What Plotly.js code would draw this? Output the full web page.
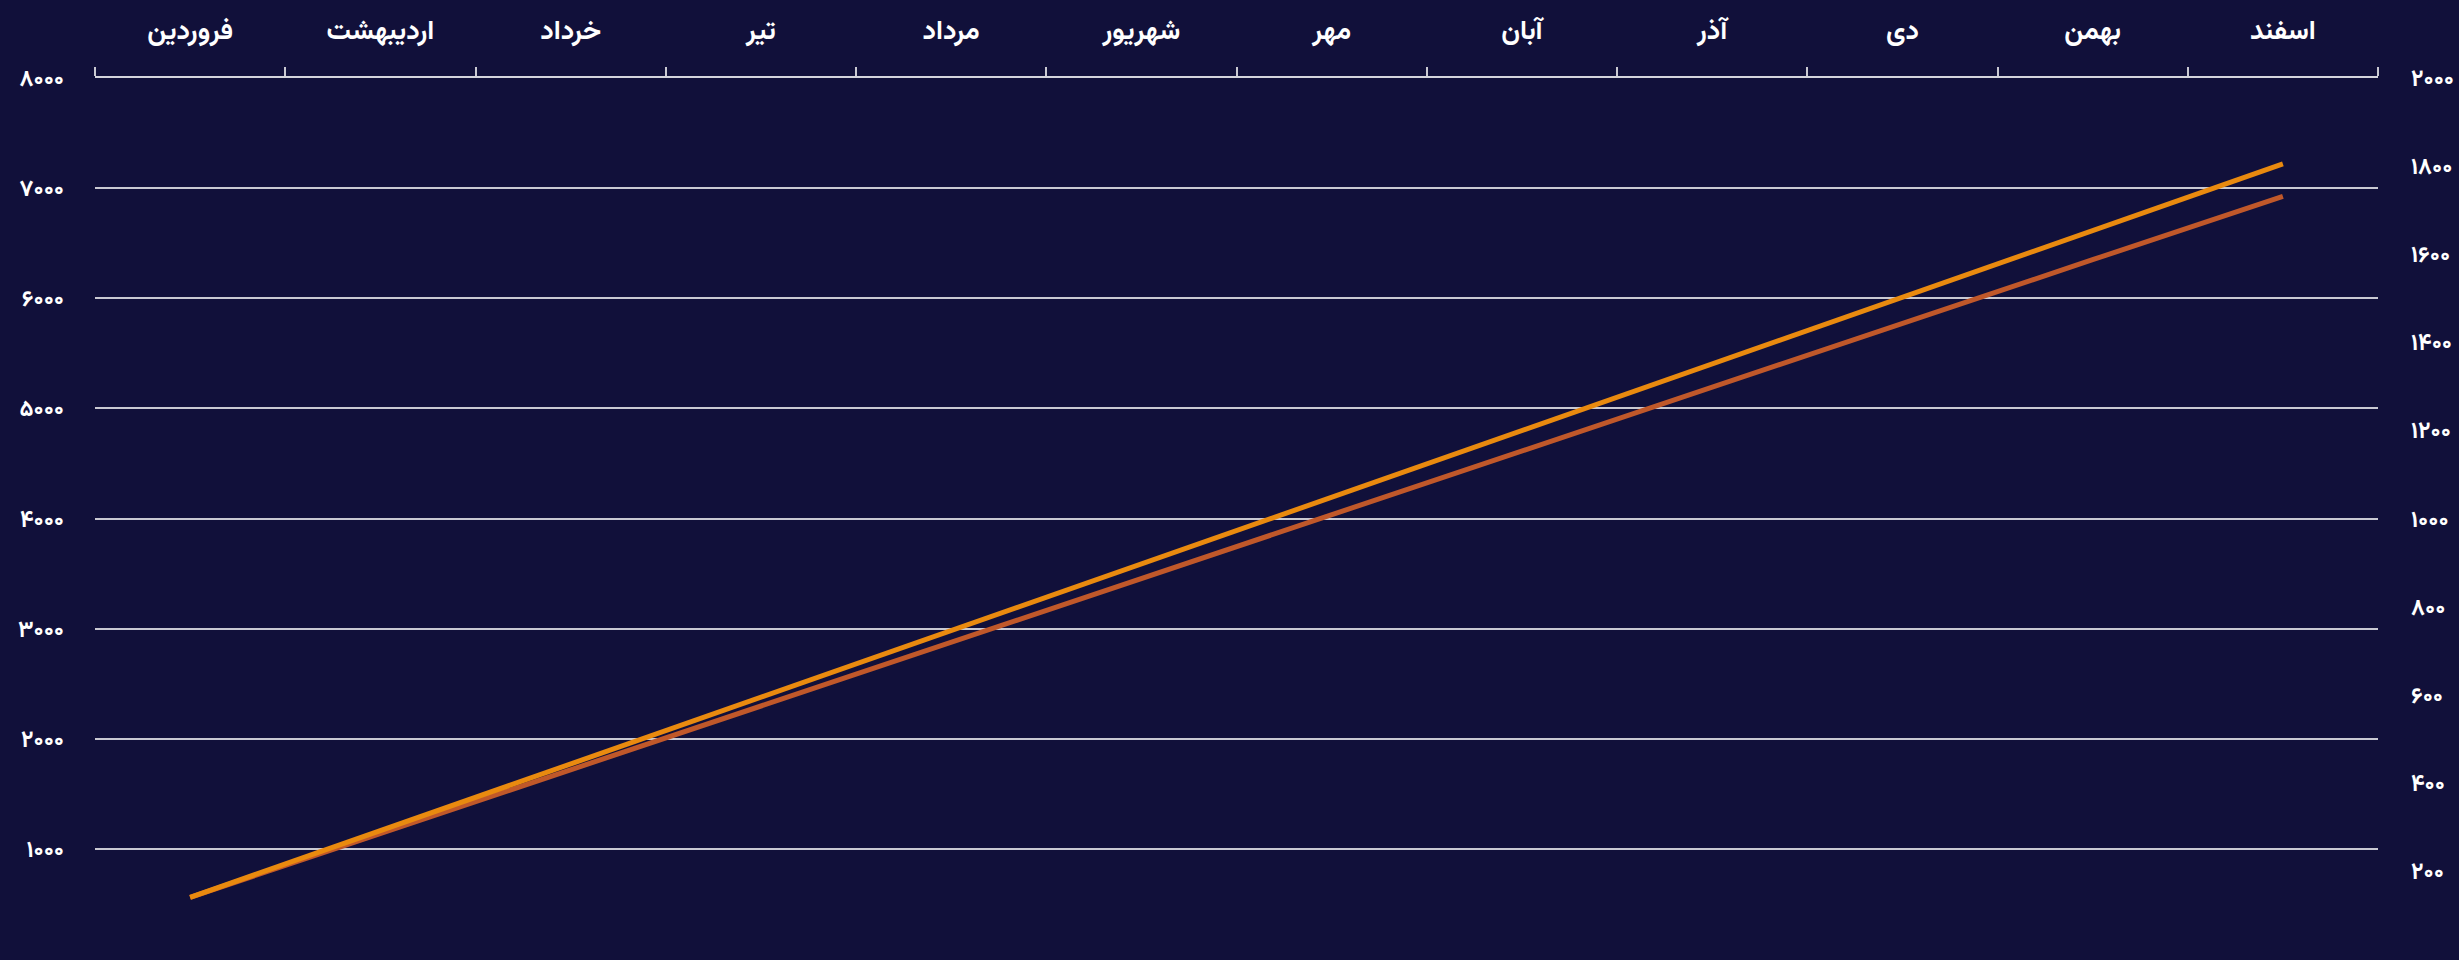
<!DOCTYPE html>
<html>
<head>
<meta charset="utf-8">
<script src="https://cdn.plot.ly/plotly-3.0.1.min.js"></script>
<style>
  html, body { margin: 0; padding: 0; background: #11103a; }
  #chart { width: 2459px; height: 960px; }
</style>
</head>
<body>
<div id="chart"></div>
<script>
const months = ['فروردین','اردیبهشت','خرداد','تیر','مرداد','شهریور','مهر','آبان','آذر','دی','بهمن','اسفند'];
const seriesA = [560, 1140, 1720, 2300, 2875, 3450, 4030, 4610, 5190, 5770, 6350, 6925];
const seriesB = [560, 1165, 1770, 2375, 2980, 3590, 4190, 4800, 5405, 6010, 6620, 7220];
const leftTickVals = [0, 1000, 2000, 3000, 4000, 5000, 6000, 7000, 8000];
const leftTickText = ['۰','۱۰۰۰','۲۰۰۰','۳۰۰۰','۴۰۰۰','۵۰۰۰','۶۰۰۰','۷۰۰۰','۸۰۰۰'];
const rightTickVals = [0, 200, 400, 600, 800, 1000, 1200, 1400, 1600, 1800, 2000];
const rightTickText = ['۰','۲۰۰','۴۰۰','۶۰۰','۸۰۰','۱۰۰۰','۱۲۰۰','۱۴۰۰','۱۶۰۰','۱۸۰۰','۲۰۰۰'];

const fontFamily = "Vazirmatn, 'DejaVu Sans', sans-serif";

const traces = [
  { x: months, y: seriesA, type: 'scatter', mode: 'lines', line: { color: '#C0582A', width: 5 }, hoverinfo: 'skip', showlegend: false },
  { x: months, y: seriesB, type: 'scatter', mode: 'lines', line: { color: '#E98A0F', width: 5 }, hoverinfo: 'skip', showlegend: false },
  { x: months, y: [null], yaxis: 'y2', type: 'scatter', mode: 'lines', hoverinfo: 'skip', showlegend: false }
];

const layout = {
  width: 2459, height: 960,
  paper_bgcolor: '#11103a', plot_bgcolor: '#11103a',
  margin: { l: 95, r: 81, t: 78, b: 1 },
  showlegend: false,
  font: { family: fontFamily, color: '#ffffff' },
  xaxis: {
    type: 'category', side: 'top', range: [-0.5, 11.5],
    tickson: 'boundaries', ticks: 'outside', ticklen: 9, tickwidth: 2, tickcolor: '#c9c9d2',
    showline: true, linecolor: '#d4d4dc', linewidth: 2,
    showgrid: false, zeroline: false,
    ticklabelstandoff: 26,
    tickfont: { family: fontFamily, size: 27, color: '#ffffff', weight: 'bold' }
  },
  yaxis: {
    range: [0, 8000], tickvals: leftTickVals, ticktext: leftTickText,
    showgrid: true, gridcolor: '#c9c9d2', gridwidth: 2,
    zeroline: false, showline: false, ticks: '',
    ticklabelstandoff: 30,
    tickfont: { family: fontFamily, size: 23, color: '#ffffff', weight: 'bold' }
  },
  yaxis2: {
    overlaying: 'y', side: 'right',
    range: [0, 2000], tickvals: rightTickVals, ticktext: rightTickText,
    showgrid: false, zeroline: false, showline: false, ticks: '',
    ticklabelstandoff: 32,
    tickfont: { family: fontFamily, size: 23, color: '#ffffff', weight: 'bold' }
  }
};

Plotly.newPlot('chart', traces, layout, { displayModeBar: false, staticPlot: true });
</script>
</body>
</html>
